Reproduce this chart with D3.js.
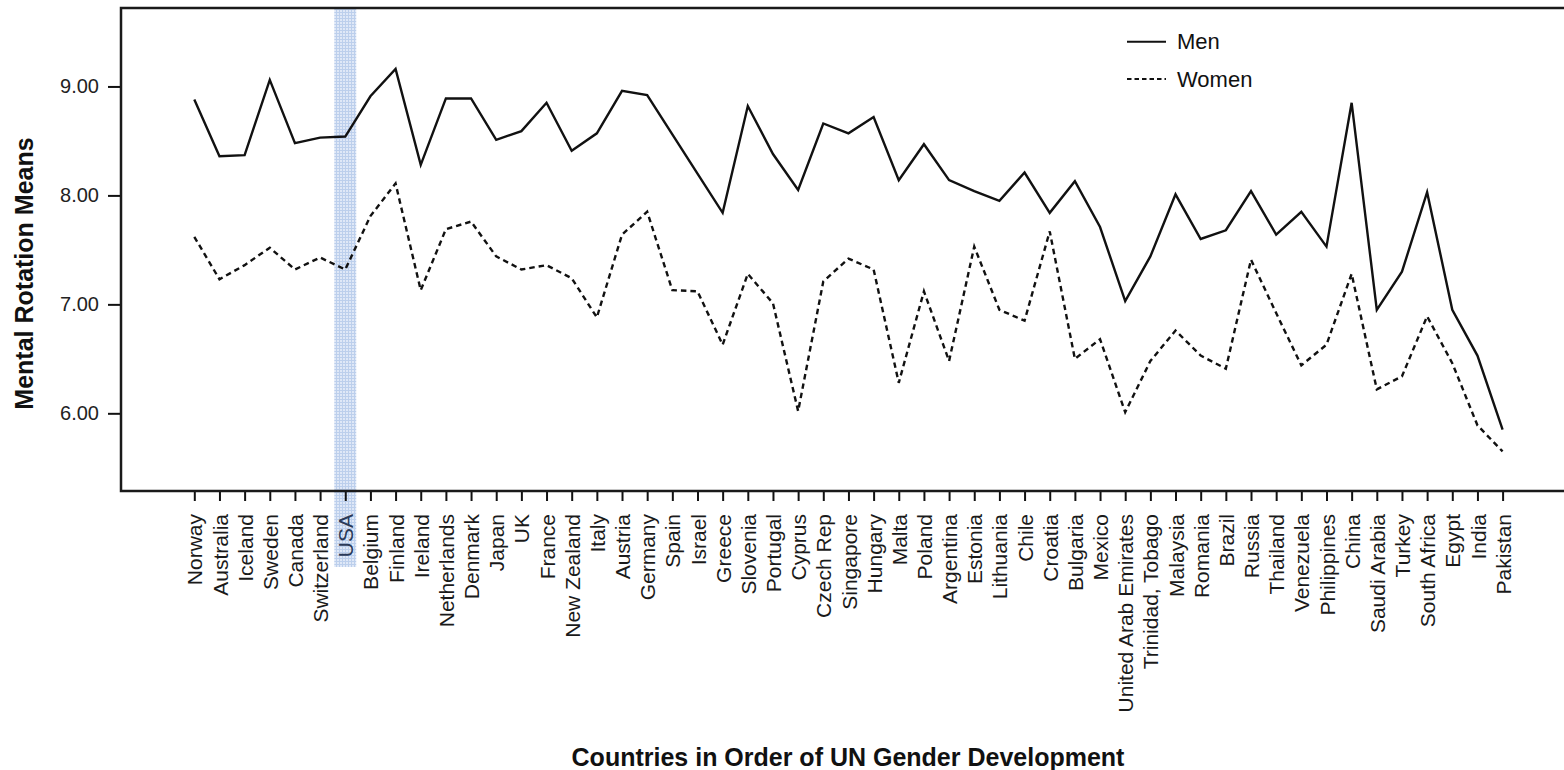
<!DOCTYPE html>
<html>
<head>
<meta charset="utf-8">
<script src="https://cdn.jsdelivr.net/npm/d3@7"></script>
<style>
  html, body { margin: 0; padding: 0; background: #fff; }
  svg { display: block; font-family: "Liberation Sans", Arial, Helvetica, sans-serif; }
</style>
</head>
<body>
<svg id="chart" width="1564" height="770"></svg>
<script>
// Countries ranked by UN gender development index
const countries = [
  "Norway", "Australia", "Iceland", "Sweden", "Canada", "Switzerland", "USA",
  "Belgium", "Finland", "Ireland", "Netherlands", "Denmark", "Japan", "UK",
  "France", "New Zealand", "Italy", "Austria", "Germany", "Spain", "Israel",
  "Greece", "Slovenia", "Portugal", "Cyprus", "Czech Rep", "Singapore",
  "Hungary", "Malta", "Poland", "Argentina", "Estonia", "Lithuania", "Chile",
  "Croatia", "Bulgaria", "Mexico", "United Arab Emirates", "Trinidad, Tobago",
  "Malaysia", "Romania", "Brazil", "Russia", "Thailand", "Venezuela",
  "Philippines", "China", "Saudi Arabia", "Turkey", "South Africa", "Egypt",
  "India", "Pakistan"
];

// Mental rotation means by sex
const men = [
  8.88, 8.36, 8.37, 9.06, 8.48, 8.53, 8.54, 8.91, 9.16, 8.28, 8.89, 8.89,
  8.51, 8.59, 8.85, 8.41, 8.57, 8.96, 8.92, 8.56, 8.20, 7.84, 8.82, 8.38,
  8.05, 8.66, 8.57, 8.72, 8.14, 8.47, 8.14, 8.04, 7.95, 8.21, 7.84, 8.13,
  7.71, 7.03, 7.44, 8.01, 7.60, 7.68, 8.04, 7.64, 7.85, 7.53, 8.85, 6.95,
  7.30, 8.03, 6.95, 6.53, 5.85
];
const women = [
  7.62, 7.23, 7.36, 7.52, 7.32, 7.43, 7.32, 7.81, 8.11, 7.13, 7.69, 7.76,
  7.44, 7.32, 7.36, 7.24, 6.88, 7.64, 7.85, 7.13, 7.12, 6.63, 7.28, 7.01,
  6.02, 7.21, 7.42, 7.32, 6.28, 7.12, 6.48, 7.53, 6.95, 6.85, 7.67, 6.50,
  6.68, 6.01, 6.48, 6.76, 6.53, 6.41, 7.41, 6.92, 6.44, 6.63, 7.28, 6.22,
  6.34, 6.89, 6.46, 5.89, 5.65
];

const yTicks = [6, 7, 8, 9];
const highlighted = "USA";
const seriesNames = ["Men", "Women"];

const svg = d3.select("#chart");

// Plot frame
const frame = { left: 121, top: 8, right: 1570, bottom: 491 };

const x = d3.scalePoint().domain(countries).range([194.3, 1502.6]);
const y = d3.scaleLinear().domain([5.287, 9.72]).range([frame.bottom, frame.top]);

// Light blue hatched band behind the highlighted country
const defs = svg.append("defs");
const pat = defs.append("pattern")
  .attr("id", "hatch")
  .attr("patternUnits", "userSpaceOnUse")
  .attr("width", 3).attr("height", 3);
pat.append("rect").attr("width", 3).attr("height", 3).attr("fill", "#dfe8f7");
pat.append("rect").attr("width", 3).attr("height", 1).attr("fill", "#bccfec");
pat.append("rect").attr("width", 1).attr("height", 3).attr("fill", "#bccfec");

const bandW = 22;
svg.append("rect")
  .attr("x", x(highlighted) - bandW / 2)
  .attr("y", frame.top + 1)
  .attr("width", bandW)
  .attr("height", 567 - frame.top - 1)
  .attr("fill", "url(#hatch)");

// Y axis
const yAxis = svg.append("g")
  .attr("transform", `translate(${frame.left},0)`)
  .call(d3.axisLeft(y).tickValues(yTicks).tickFormat(d3.format(".2f")).tickSize(13).tickPadding(9));
yAxis.select(".domain").remove();
yAxis.selectAll(".tick line").attr("stroke", "#111").attr("stroke-width", 2);
yAxis.selectAll(".tick text")
  .attr("fill", "#222")
  .style("font-size", "20px");

// X axis
const xAxis = svg.append("g")
  .attr("transform", `translate(0,${frame.bottom})`)
  .call(d3.axisBottom(x).tickSize(10).tickPadding(0));
xAxis.select(".domain").remove();
xAxis.selectAll(".tick line").attr("stroke", "#111").attr("stroke-width", 2);
xAxis.selectAll(".tick text")
  .attr("fill", d => d === highlighted ? "#2b3a58" : "#1a1a1a")
  .style("font-size", "21px")
  .attr("text-anchor", "end")
  .attr("dy", "0.36em")
  .attr("transform", "translate(0,23) rotate(-90)")
  .attr("x", 0).attr("y", 0);

// Frame lines (left, top, bottom)
svg.append("path")
  .attr("d", `M${frame.right},${frame.top}H${frame.left}V${frame.bottom}H${frame.right}`)
  .attr("fill", "none")
  .attr("stroke", "#1a1a1a")
  .attr("stroke-width", 2.5);

// Series lines
const line = (vals) => d3.line()
  .x((d, i) => x(countries[i]))
  .y(d => y(d))(vals);

svg.append("path")
  .attr("d", line(men))
  .attr("fill", "none")
  .attr("stroke", "#111")
  .attr("stroke-width", 2.4)
  .attr("stroke-linejoin", "miter");

svg.append("path")
  .attr("d", line(women))
  .attr("fill", "none")
  .attr("stroke", "#111")
  .attr("stroke-width", 2.4)
  .attr("stroke-dasharray", "5.5,4");

// Legend
const legend = svg.append("g").attr("transform", "translate(1127,0)");
const legendRows = [
  { name: seriesNames[0], y: 41.7, dash: null },
  { name: seriesNames[1], y: 79, dash: "4.5,3" }
];
legendRows.forEach(r => {
  legend.append("line")
    .attr("x1", 0).attr("x2", 39)
    .attr("y1", r.y).attr("y2", r.y)
    .attr("stroke", "#111")
    .attr("stroke-width", 2)
    .attr("stroke-dasharray", r.dash);
  legend.append("text")
    .attr("x", 50).attr("y", r.y)
    .attr("dy", "0.35em")
    .attr("fill", "#111")
    .style("font-size", "22px")
    .text(r.name);
});

// Axis titles
svg.append("text")
  .attr("transform", `translate(33,${(135 + 412) / 2}) rotate(-90)`)
  .attr("text-anchor", "middle")
  .style("font-size", "25px")
  .style("font-weight", "bold")
  .attr("fill", "#111")
  .text("Mental Rotation Means");

svg.append("text")
  .attr("x", 848)
  .attr("y", 766)
  .attr("text-anchor", "middle")
  .style("font-size", "25px")
  .style("font-weight", "bold")
  .attr("fill", "#111")
  .text("Countries in Order of UN Gender Development");
</script>
</body>
</html>
